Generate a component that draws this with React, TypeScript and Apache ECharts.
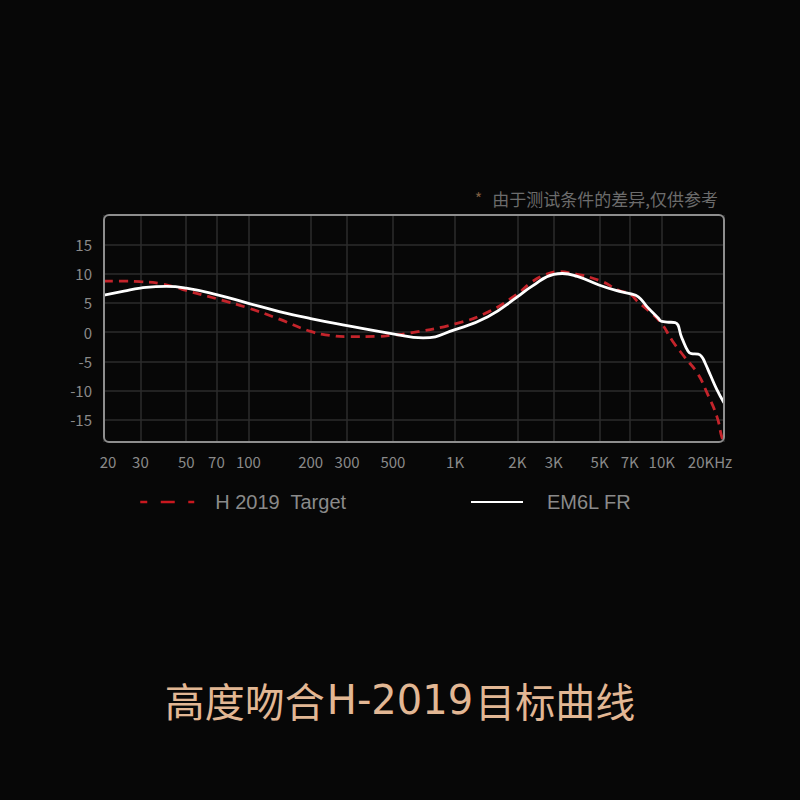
import { useEffect, useRef } from "react";
import * as echarts from "echarts";

// H 2019 target curve (dashed red)
const TARGET_FREQ = [
  20, 25, 30, 37, 45, 50, 70, 100, 141, 200, 250, 300, 420, 500, 600, 1000, 1440, 2000, 2340, 2700,
  3150, 3600, 5000, 6200, 7000, 7700, 8800, 10000, 11200, 12900, 14900, 16600, 18500, 19500, 20000,
];
const TARGET_DB = [
  8.7, 8.7, 8.6, 8.3, 7.6, 7.1, 5.7, 4.1, 2.2, 0.1, -0.6, -0.8, -0.75, -0.55, -0.2, 1.4, 3.4, 6.5, 8.5, 9.7,
  10.3, 10.1, 8.8, 7.1, 6.5, 5.1, 3.4, 1.4, -1.4, -4.3, -7.1, -10.5, -14.5, -17.9, -18.8,
];

// EM6L measured response (white)
const FR_FREQ = [
  20, 25, 30, 40, 50, 70, 100, 141, 200, 300, 500, 700, 1000, 1440, 2000, 2340, 3000, 3300, 3900, 5000,
  6000, 7000, 7700, 8500, 9600, 10000, 10600, 11600, 12500, 13400, 13900, 15000, 15600, 16200, 17200,
  18400, 20000,
];
const FR_DB = [
  6.3, 7.0, 7.5, 7.8, 7.5, 6.4, 4.9, 3.5, 2.3, 1.1, -0.3, -1.0, 0.4, 2.6, 6.0, 7.75, 9.85, 10.0, 9.5, 8.0,
  7.1, 6.55, 6.0, 4.3, 2.4, 1.8, 1.7, 1.6, -1.0, -3.3, -3.7, -3.8, -4.2, -5.3, -7.4,
  -9.7, -12.1,
];

const X_TICKS = [20, 30, 50, 70, 100, 200, 300, 500, 1000, 2000, 3000, 5000, 7000, 10000, 20000];
const Y_TICKS = [-15, -10, -5, 0, 5, 10, 15];

const SERIES_NAMES = ["H 2019  Target", "EM6L FR"];
const TITLE_PARTS = ["高度吻合", "H-2019", "目标曲线"];
const NOTE = "由于测试条件的差异,仅供参考";

const GRID = { left: 104, top: 215, width: 620, height: 227 };
const AXIS_FONT = { color: "#8a8a8a", fontSize: 15, fontFamily: "Noto Sans CJK SC" };
const TITLE_FONT = { color: "#e2b794", fontSize: 40, fontWeight: "normal" as const };

function freqLabel(value: number): string {
  const freq = Math.round(10 ** value);
  if (freq === 20) return "{first|20}";
  if (freq === 20000) return "{last|20KHz}";
  return freq >= 1000 ? `${freq / 1000}K` : `${freq}`;
}

function toPoints(freqs: number[], values: number[]): number[][] {
  return freqs.map((freq, i) => [Math.log10(freq), values[i]]);
}

export default function App(): JSX.Element {
  const ref = useRef<HTMLDivElement | null>(null);

  useEffect(() => {
    const el = ref.current;
    if (!el) return;
    const chart = echarts.init(el, null, { renderer: "svg" });
    const xTicks = X_TICKS.map((f) => Math.log10(f));

    chart.setOption({
      animation: false,
      backgroundColor: "#070707",
      title: [
        {
          text: `{cjk|${TITLE_PARTS[0]}}{latin|${TITLE_PARTS[1]}}{cjk|${TITLE_PARTS[2]}}`,
          left: "center",
          top: 680,
          padding: 0,
          textStyle: {
            ...TITLE_FONT,
            rich: {
              cjk: { ...TITLE_FONT, fontFamily: "Noto Sans CJK SC" },
              latin: { ...TITLE_FONT, fontFamily: "DejaVu Sans", padding: [0, 2, 0, 2] },
            },
          },
        },
        {
          text: `{star|*}  {note|${NOTE}}`,
          right: 82,
          top: 189,
          padding: 0,
          textStyle: {
            fontWeight: "normal",
            rich: {
              star: { color: "#7d5b3f", fontSize: 16, fontWeight: "normal", fontFamily: "Noto Sans CJK SC" },
              note: { color: "#6c6c6c", fontSize: 17, fontWeight: "normal", fontFamily: "Noto Sans CJK SC" },
            },
          },
        },
      ],
      legend: [
        {
          data: [SERIES_NAMES[0]],
          left: 139,
          top: 492,
          padding: 0,
          itemWidth: 54,
          itemHeight: 20,
          itemStyle: { opacity: 0 },
          textStyle: { color: "#8a8a8a", fontSize: 20, fontFamily: "Liberation Sans", padding: [0, 0, 0, 16] },
          lineStyle: { type: [14, 13.5], dashOffset: 7, width: 2.5, color: "#c8181f" },
        },
        {
          data: [SERIES_NAMES[1]],
          left: 470,
          top: 492,
          padding: 0,
          itemWidth: 52,
          itemHeight: 20,
          itemStyle: { opacity: 0 },
          textStyle: { color: "#8a8a8a", fontSize: 20, fontFamily: "Liberation Sans", padding: [0, 0, 0, 19] },
        },
      ],
      grid: { ...GRID, containLabel: false },
      xAxis: {
        type: "value",
        min: Math.log10(20),
        max: Math.log10(20000),
        axisLine: { show: false },
        axisTick: { show: false, customValues: xTicks },
        axisLabel: {
          customValues: xTicks,
          margin: 12,
          ...AXIS_FONT,
          formatter: freqLabel,
          rich: {
            first: { ...AXIS_FONT, padding: [0, 0, 0, 8] },
            last: { ...AXIS_FONT, padding: [0, 28, 0, 0] },
          },
        },
        splitLine: { show: true, lineStyle: { color: "#2c2c2c", width: 1.5 } },
      },
      yAxis: {
        type: "value",
        min: -18.8,
        max: 20,
        axisLine: { show: false },
        axisTick: { show: false, customValues: Y_TICKS },
        axisLabel: { customValues: Y_TICKS, margin: 12, ...AXIS_FONT },
        splitLine: { show: true, lineStyle: { color: "#2c2c2c", width: 1.5 } },
      },
      graphic: [
        {
          type: "rect",
          z: 100,
          silent: true,
          shape: { x: GRID.left, y: GRID.top, width: GRID.width, height: GRID.height, r: 5 },
          style: { fill: "none", stroke: "#8e8e8e", lineWidth: 2 },
        },
      ],
      series: [
        {
          name: SERIES_NAMES[0],
          type: "line",
          data: toPoints(TARGET_FREQ, TARGET_DB),
          smooth: 0.5,
          symbol: "none",
          lineStyle: { color: "#c4242b", width: 2.8, type: [9, 6] },
          itemStyle: { color: "#c4242b" },
          z: 2,
        },
        {
          name: SERIES_NAMES[1],
          type: "line",
          data: toPoints(FR_FREQ, FR_DB),
          smooth: 0.5,
          symbol: "none",
          lineStyle: { color: "#ffffff", width: 2.8 },
          itemStyle: { color: "#ffffff" },
          z: 3,
        },
      ],
    });

    return () => chart.dispose();
  }, []);

  return (
    <div
      ref={ref}
      style={{ position: "fixed", left: 0, top: 0, width: 800, height: 800, background: "#070707" }}
    />
  );
}
